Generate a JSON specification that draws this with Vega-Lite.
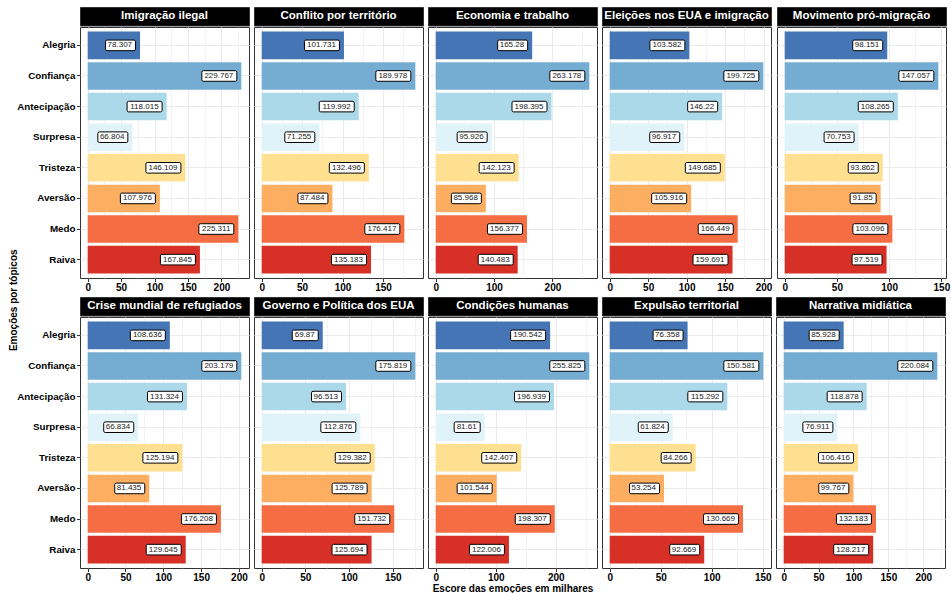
{
  "$schema": "https://vega.github.io/schema/vega-lite/v6.json",
  "padding": {"left": 8, "top": 6, "right": 0, "bottom": 0},
  "title": {"text": "Emoções por tópicos", "orient": "left", "anchor": "middle", "fontSize": 10, "fontWeight": "bold", "color": "black", "offset": -2.5},
  "data": {"values": [
    {"topic": "Imigração ilegal", "emo": "Alegria", "v": 78.307},
    {"topic": "Imigração ilegal", "emo": "Confiança", "v": 229.767},
    {"topic": "Imigração ilegal", "emo": "Antecipação", "v": 118.015},
    {"topic": "Imigração ilegal", "emo": "Surpresa", "v": 66.804},
    {"topic": "Imigração ilegal", "emo": "Tristeza", "v": 146.109},
    {"topic": "Imigração ilegal", "emo": "Aversão", "v": 107.976},
    {"topic": "Imigração ilegal", "emo": "Medo", "v": 225.311},
    {"topic": "Imigração ilegal", "emo": "Raiva", "v": 167.845},
    {"topic": "Conflito por território", "emo": "Alegria", "v": 101.731},
    {"topic": "Conflito por território", "emo": "Confiança", "v": 189.978},
    {"topic": "Conflito por território", "emo": "Antecipação", "v": 119.992},
    {"topic": "Conflito por território", "emo": "Surpresa", "v": 71.255},
    {"topic": "Conflito por território", "emo": "Tristeza", "v": 132.496},
    {"topic": "Conflito por território", "emo": "Aversão", "v": 87.484},
    {"topic": "Conflito por território", "emo": "Medo", "v": 176.417},
    {"topic": "Conflito por território", "emo": "Raiva", "v": 135.183},
    {"topic": "Economia e trabalho", "emo": "Alegria", "v": 165.28},
    {"topic": "Economia e trabalho", "emo": "Confiança", "v": 263.178},
    {"topic": "Economia e trabalho", "emo": "Antecipação", "v": 198.395},
    {"topic": "Economia e trabalho", "emo": "Surpresa", "v": 95.926},
    {"topic": "Economia e trabalho", "emo": "Tristeza", "v": 142.123},
    {"topic": "Economia e trabalho", "emo": "Aversão", "v": 85.968},
    {"topic": "Economia e trabalho", "emo": "Medo", "v": 156.377},
    {"topic": "Economia e trabalho", "emo": "Raiva", "v": 140.483},
    {"topic": "Eleições nos EUA e imigração", "emo": "Alegria", "v": 103.582},
    {"topic": "Eleições nos EUA e imigração", "emo": "Confiança", "v": 199.725},
    {"topic": "Eleições nos EUA e imigração", "emo": "Antecipação", "v": 146.22},
    {"topic": "Eleições nos EUA e imigração", "emo": "Surpresa", "v": 96.917},
    {"topic": "Eleições nos EUA e imigração", "emo": "Tristeza", "v": 149.685},
    {"topic": "Eleições nos EUA e imigração", "emo": "Aversão", "v": 105.916},
    {"topic": "Eleições nos EUA e imigração", "emo": "Medo", "v": 166.449},
    {"topic": "Eleições nos EUA e imigração", "emo": "Raiva", "v": 159.691},
    {"topic": "Movimento pró-migração", "emo": "Alegria", "v": 98.151},
    {"topic": "Movimento pró-migração", "emo": "Confiança", "v": 147.057},
    {"topic": "Movimento pró-migração", "emo": "Antecipação", "v": 108.265},
    {"topic": "Movimento pró-migração", "emo": "Surpresa", "v": 70.753},
    {"topic": "Movimento pró-migração", "emo": "Tristeza", "v": 93.862},
    {"topic": "Movimento pró-migração", "emo": "Aversão", "v": 91.85},
    {"topic": "Movimento pró-migração", "emo": "Medo", "v": 103.096},
    {"topic": "Movimento pró-migração", "emo": "Raiva", "v": 97.519},
    {"topic": "Crise mundial de refugiados", "emo": "Alegria", "v": 108.636},
    {"topic": "Crise mundial de refugiados", "emo": "Confiança", "v": 203.179},
    {"topic": "Crise mundial de refugiados", "emo": "Antecipação", "v": 131.324},
    {"topic": "Crise mundial de refugiados", "emo": "Surpresa", "v": 66.834},
    {"topic": "Crise mundial de refugiados", "emo": "Tristeza", "v": 125.194},
    {"topic": "Crise mundial de refugiados", "emo": "Aversão", "v": 81.435},
    {"topic": "Crise mundial de refugiados", "emo": "Medo", "v": 176.208},
    {"topic": "Crise mundial de refugiados", "emo": "Raiva", "v": 129.645},
    {"topic": "Governo e Política dos EUA", "emo": "Alegria", "v": 69.87},
    {"topic": "Governo e Política dos EUA", "emo": "Confiança", "v": 175.819},
    {"topic": "Governo e Política dos EUA", "emo": "Antecipação", "v": 96.513},
    {"topic": "Governo e Política dos EUA", "emo": "Surpresa", "v": 112.876},
    {"topic": "Governo e Política dos EUA", "emo": "Tristeza", "v": 129.382},
    {"topic": "Governo e Política dos EUA", "emo": "Aversão", "v": 125.789},
    {"topic": "Governo e Política dos EUA", "emo": "Medo", "v": 151.732},
    {"topic": "Governo e Política dos EUA", "emo": "Raiva", "v": 125.694},
    {"topic": "Condições humanas", "emo": "Alegria", "v": 190.542},
    {"topic": "Condições humanas", "emo": "Confiança", "v": 255.825},
    {"topic": "Condições humanas", "emo": "Antecipação", "v": 196.939},
    {"topic": "Condições humanas", "emo": "Surpresa", "v": 81.61},
    {"topic": "Condições humanas", "emo": "Tristeza", "v": 142.407},
    {"topic": "Condições humanas", "emo": "Aversão", "v": 101.544},
    {"topic": "Condições humanas", "emo": "Medo", "v": 198.307},
    {"topic": "Condições humanas", "emo": "Raiva", "v": 122.006},
    {"topic": "Expulsão territorial", "emo": "Alegria", "v": 76.358},
    {"topic": "Expulsão territorial", "emo": "Confiança", "v": 150.581},
    {"topic": "Expulsão territorial", "emo": "Antecipação", "v": 115.292},
    {"topic": "Expulsão territorial", "emo": "Surpresa", "v": 61.824},
    {"topic": "Expulsão territorial", "emo": "Tristeza", "v": 84.266},
    {"topic": "Expulsão territorial", "emo": "Aversão", "v": 53.254},
    {"topic": "Expulsão territorial", "emo": "Medo", "v": 130.669},
    {"topic": "Expulsão territorial", "emo": "Raiva", "v": 92.669},
    {"topic": "Narrativa midiática", "emo": "Alegria", "v": 85.928},
    {"topic": "Narrativa midiática", "emo": "Confiança", "v": 220.084},
    {"topic": "Narrativa midiática", "emo": "Antecipação", "v": 118.878},
    {"topic": "Narrativa midiática", "emo": "Surpresa", "v": 76.911},
    {"topic": "Narrativa midiática", "emo": "Tristeza", "v": 106.416},
    {"topic": "Narrativa midiática", "emo": "Aversão", "v": 99.767},
    {"topic": "Narrativa midiática", "emo": "Medo", "v": 132.183},
    {"topic": "Narrativa midiática", "emo": "Raiva", "v": 128.217}
  ]},
  "spacing": 3,
  "vconcat": [
    {"spacing": 3, "hconcat": [
      {"spacing": 0, "vconcat": [
        {"width": 169, "height": 18.5, "view": {"fill": "black", "stroke": "#333333"}, "data": {"values": [{}]},
         "mark": {"type": "text", "text": "Imigração ilegal", "color": "white", "fontWeight": "bold", "fontSize": 11.5}, "encoding": {}},
        {"width": 169, "height": 251,
         "transform": [{"filter": "datum.topic == 'Imigração ilegal'"}],
         "encoding": {
           "y": {"field": "emo", "type": "nominal", "title": null, "scale": {"domain": ["Alegria","Confiança","Antecipação","Surpresa","Tristeza","Aversão","Medo","Raiva"], "paddingInner": 0.1, "paddingOuter": 0.15}, "axis": {"labels": true, "ticks": true}},
           "x": {"field": "v", "type": "quantitative", "title": null, "scale": {"domain": [-11.488, 241.255], "nice": false, "zero": false},
                 "axis": {"values": [0,25,50,75,100,125,150,175,200,225], "format": "d", "labelExpr": "datum.value % 50 == 0 ? datum.label : ''",
                          "tickColor": {"condition": {"test": "datum.value % 50 != 0", "value": "transparent"}, "value": "#333333"},
                          "gridWidth": {"condition": {"test": "datum.value % 50 != 0", "value": 0.6}, "value": 1}}}
         },
         "layer": [
           {"mark": {"type": "bar"}, "encoding": {"color": {"field": "emo", "type": "nominal", "legend": null, "scale": {"domain": ["Alegria","Confiança","Antecipação","Surpresa","Tristeza","Aversão","Medo","Raiva"], "range": ["#4575b4","#74add1","#abd9e9","#e0f3f8","#fee090","#fdae61","#f46d43","#d73027"]}}}},
           {"mark": {"type": "point", "filled": true, "fill": "white", "stroke": "black", "strokeWidth": 1, "opacity": 1, "size": 400},
            "encoding": {"shape": {"condition": [
              {"test": "length(format(datum.v, '.3~f')) >= 7", "value": "M -3.8 -0.53 L -0.6 -0.53 Q -0.45 -0.53 -0.45 -0.38 L -0.45 0.38 Q -0.45 0.53 -0.6 0.53 L -3.8 0.53 Q -3.95 0.53 -3.95 0.38 L -3.95 -0.38 Q -3.95 -0.53 -3.8 -0.53 Z"},
              {"test": "length(format(datum.v, '.3~f')) == 6", "value": "M -3.3 -0.53 L -0.6 -0.53 Q -0.45 -0.53 -0.45 -0.38 L -0.45 0.38 Q -0.45 0.53 -0.6 0.53 L -3.3 0.53 Q -3.45 0.53 -3.45 0.38 L -3.45 -0.38 Q -3.45 -0.53 -3.3 -0.53 Z"}],
              "value": "M -2.9 -0.53 L -0.6 -0.53 Q -0.45 -0.53 -0.45 -0.38 L -0.45 0.38 Q -0.45 0.53 -0.6 0.53 L -2.9 0.53 Q -3.05 0.53 -3.05 0.38 L -3.05 -0.38 Q -3.05 -0.53 -2.9 -0.53 Z"}}},
           {"mark": {"type": "text", "align": "right", "baseline": "middle", "dx": -8, "fontSize": 8, "color": "#1a1a1a"},
            "encoding": {"text": {"field": "v", "type": "quantitative", "format": ".3~f"}}}
         ]}
      ]},
      {"spacing": 0, "vconcat": [
        {"width": 169, "height": 18.5, "view": {"fill": "black", "stroke": "#333333"}, "data": {"values": [{}]},
         "mark": {"type": "text", "text": "Conflito por território", "color": "white", "fontWeight": "bold", "fontSize": 11.5}, "encoding": {}},
        {"width": 169, "height": 251,
         "transform": [{"filter": "datum.topic == 'Conflito por território'"}],
         "encoding": {
           "y": {"field": "emo", "type": "nominal", "title": null, "scale": {"domain": ["Alegria","Confiança","Antecipação","Surpresa","Tristeza","Aversão","Medo","Raiva"], "paddingInner": 0.1, "paddingOuter": 0.15}, "axis": {"labels": false, "ticks": false}},
           "x": {"field": "v", "type": "quantitative", "title": null, "scale": {"domain": [-9.499, 199.477], "nice": false, "zero": false},
                 "axis": {"values": [0,25,50,75,100,125,150,175], "format": "d", "labelExpr": "datum.value % 50 == 0 ? datum.label : ''",
                          "tickColor": {"condition": {"test": "datum.value % 50 != 0", "value": "transparent"}, "value": "#333333"},
                          "gridWidth": {"condition": {"test": "datum.value % 50 != 0", "value": 0.6}, "value": 1}}}
         },
         "layer": [
           {"mark": {"type": "bar"}, "encoding": {"color": {"field": "emo", "type": "nominal", "legend": null, "scale": {"domain": ["Alegria","Confiança","Antecipação","Surpresa","Tristeza","Aversão","Medo","Raiva"], "range": ["#4575b4","#74add1","#abd9e9","#e0f3f8","#fee090","#fdae61","#f46d43","#d73027"]}}}},
           {"mark": {"type": "point", "filled": true, "fill": "white", "stroke": "black", "strokeWidth": 1, "opacity": 1, "size": 400},
            "encoding": {"shape": {"condition": [
              {"test": "length(format(datum.v, '.3~f')) >= 7", "value": "M -3.8 -0.53 L -0.6 -0.53 Q -0.45 -0.53 -0.45 -0.38 L -0.45 0.38 Q -0.45 0.53 -0.6 0.53 L -3.8 0.53 Q -3.95 0.53 -3.95 0.38 L -3.95 -0.38 Q -3.95 -0.53 -3.8 -0.53 Z"},
              {"test": "length(format(datum.v, '.3~f')) == 6", "value": "M -3.3 -0.53 L -0.6 -0.53 Q -0.45 -0.53 -0.45 -0.38 L -0.45 0.38 Q -0.45 0.53 -0.6 0.53 L -3.3 0.53 Q -3.45 0.53 -3.45 0.38 L -3.45 -0.38 Q -3.45 -0.53 -3.3 -0.53 Z"}],
              "value": "M -2.9 -0.53 L -0.6 -0.53 Q -0.45 -0.53 -0.45 -0.38 L -0.45 0.38 Q -0.45 0.53 -0.6 0.53 L -2.9 0.53 Q -3.05 0.53 -3.05 0.38 L -3.05 -0.38 Q -3.05 -0.53 -2.9 -0.53 Z"}}},
           {"mark": {"type": "text", "align": "right", "baseline": "middle", "dx": -8, "fontSize": 8, "color": "#1a1a1a"},
            "encoding": {"text": {"field": "v", "type": "quantitative", "format": ".3~f"}}}
         ]}
      ]},
      {"spacing": 0, "vconcat": [
        {"width": 169, "height": 18.5, "view": {"fill": "black", "stroke": "#333333"}, "data": {"values": [{}]},
         "mark": {"type": "text", "text": "Economia e trabalho", "color": "white", "fontWeight": "bold", "fontSize": 11.5}, "encoding": {}},
        {"width": 169, "height": 251,
         "transform": [{"filter": "datum.topic == 'Economia e trabalho'"}],
         "encoding": {
           "y": {"field": "emo", "type": "nominal", "title": null, "scale": {"domain": ["Alegria","Confiança","Antecipação","Surpresa","Tristeza","Aversão","Medo","Raiva"], "paddingInner": 0.1, "paddingOuter": 0.15}, "axis": {"labels": false, "ticks": false}},
           "x": {"field": "v", "type": "quantitative", "title": null, "scale": {"domain": [-13.159, 276.337], "nice": false, "zero": false},
                 "axis": {"values": [0,50,100,150,200,250], "format": "d", "labelExpr": "datum.value % 100 == 0 ? datum.label : ''",
                          "tickColor": {"condition": {"test": "datum.value % 100 != 0", "value": "transparent"}, "value": "#333333"},
                          "gridWidth": {"condition": {"test": "datum.value % 100 != 0", "value": 0.6}, "value": 1}}}
         },
         "layer": [
           {"mark": {"type": "bar"}, "encoding": {"color": {"field": "emo", "type": "nominal", "legend": null, "scale": {"domain": ["Alegria","Confiança","Antecipação","Surpresa","Tristeza","Aversão","Medo","Raiva"], "range": ["#4575b4","#74add1","#abd9e9","#e0f3f8","#fee090","#fdae61","#f46d43","#d73027"]}}}},
           {"mark": {"type": "point", "filled": true, "fill": "white", "stroke": "black", "strokeWidth": 1, "opacity": 1, "size": 400},
            "encoding": {"shape": {"condition": [
              {"test": "length(format(datum.v, '.3~f')) >= 7", "value": "M -3.8 -0.53 L -0.6 -0.53 Q -0.45 -0.53 -0.45 -0.38 L -0.45 0.38 Q -0.45 0.53 -0.6 0.53 L -3.8 0.53 Q -3.95 0.53 -3.95 0.38 L -3.95 -0.38 Q -3.95 -0.53 -3.8 -0.53 Z"},
              {"test": "length(format(datum.v, '.3~f')) == 6", "value": "M -3.3 -0.53 L -0.6 -0.53 Q -0.45 -0.53 -0.45 -0.38 L -0.45 0.38 Q -0.45 0.53 -0.6 0.53 L -3.3 0.53 Q -3.45 0.53 -3.45 0.38 L -3.45 -0.38 Q -3.45 -0.53 -3.3 -0.53 Z"}],
              "value": "M -2.9 -0.53 L -0.6 -0.53 Q -0.45 -0.53 -0.45 -0.38 L -0.45 0.38 Q -0.45 0.53 -0.6 0.53 L -2.9 0.53 Q -3.05 0.53 -3.05 0.38 L -3.05 -0.38 Q -3.05 -0.53 -2.9 -0.53 Z"}}},
           {"mark": {"type": "text", "align": "right", "baseline": "middle", "dx": -8, "fontSize": 8, "color": "#1a1a1a"},
            "encoding": {"text": {"field": "v", "type": "quantitative", "format": ".3~f"}}}
         ]}
      ]},
      {"spacing": 0, "vconcat": [
        {"width": 169, "height": 18.5, "view": {"fill": "black", "stroke": "#333333"}, "data": {"values": [{}]},
         "mark": {"type": "text", "text": "Eleições nos EUA e imigração", "color": "white", "fontWeight": "bold", "fontSize": 11.5}, "encoding": {}},
        {"width": 169, "height": 251,
         "transform": [{"filter": "datum.topic == 'Eleições nos EUA e imigração'"}],
         "encoding": {
           "y": {"field": "emo", "type": "nominal", "title": null, "scale": {"domain": ["Alegria","Confiança","Antecipação","Surpresa","Tristeza","Aversão","Medo","Raiva"], "paddingInner": 0.1, "paddingOuter": 0.15}, "axis": {"labels": false, "ticks": false}},
           "x": {"field": "v", "type": "quantitative", "title": null, "scale": {"domain": [-9.986, 209.711], "nice": false, "zero": false},
                 "axis": {"values": [0,25,50,75,100,125,150,175,200], "format": "d", "labelExpr": "datum.value % 50 == 0 ? datum.label : ''",
                          "tickColor": {"condition": {"test": "datum.value % 50 != 0", "value": "transparent"}, "value": "#333333"},
                          "gridWidth": {"condition": {"test": "datum.value % 50 != 0", "value": 0.6}, "value": 1}}}
         },
         "layer": [
           {"mark": {"type": "bar"}, "encoding": {"color": {"field": "emo", "type": "nominal", "legend": null, "scale": {"domain": ["Alegria","Confiança","Antecipação","Surpresa","Tristeza","Aversão","Medo","Raiva"], "range": ["#4575b4","#74add1","#abd9e9","#e0f3f8","#fee090","#fdae61","#f46d43","#d73027"]}}}},
           {"mark": {"type": "point", "filled": true, "fill": "white", "stroke": "black", "strokeWidth": 1, "opacity": 1, "size": 400},
            "encoding": {"shape": {"condition": [
              {"test": "length(format(datum.v, '.3~f')) >= 7", "value": "M -3.8 -0.53 L -0.6 -0.53 Q -0.45 -0.53 -0.45 -0.38 L -0.45 0.38 Q -0.45 0.53 -0.6 0.53 L -3.8 0.53 Q -3.95 0.53 -3.95 0.38 L -3.95 -0.38 Q -3.95 -0.53 -3.8 -0.53 Z"},
              {"test": "length(format(datum.v, '.3~f')) == 6", "value": "M -3.3 -0.53 L -0.6 -0.53 Q -0.45 -0.53 -0.45 -0.38 L -0.45 0.38 Q -0.45 0.53 -0.6 0.53 L -3.3 0.53 Q -3.45 0.53 -3.45 0.38 L -3.45 -0.38 Q -3.45 -0.53 -3.3 -0.53 Z"}],
              "value": "M -2.9 -0.53 L -0.6 -0.53 Q -0.45 -0.53 -0.45 -0.38 L -0.45 0.38 Q -0.45 0.53 -0.6 0.53 L -2.9 0.53 Q -3.05 0.53 -3.05 0.38 L -3.05 -0.38 Q -3.05 -0.53 -2.9 -0.53 Z"}}},
           {"mark": {"type": "text", "align": "right", "baseline": "middle", "dx": -8, "fontSize": 8, "color": "#1a1a1a"},
            "encoding": {"text": {"field": "v", "type": "quantitative", "format": ".3~f"}}}
         ]}
      ]},
      {"spacing": 0, "vconcat": [
        {"width": 169, "height": 18.5, "view": {"fill": "black", "stroke": "#333333"}, "data": {"values": [{}]},
         "mark": {"type": "text", "text": "Movimento pró-migração", "color": "white", "fontWeight": "bold", "fontSize": 11.5}, "encoding": {}},
        {"width": 169, "height": 251,
         "transform": [{"filter": "datum.topic == 'Movimento pró-migração'"}],
         "encoding": {
           "y": {"field": "emo", "type": "nominal", "title": null, "scale": {"domain": ["Alegria","Confiança","Antecipação","Surpresa","Tristeza","Aversão","Medo","Raiva"], "paddingInner": 0.1, "paddingOuter": 0.15}, "axis": {"labels": false, "ticks": false}},
           "x": {"field": "v", "type": "quantitative", "title": null, "scale": {"domain": [-7.353, 154.41], "nice": false, "zero": false},
                 "axis": {"values": [0,25,50,75,100,125,150], "format": "d", "labelExpr": "datum.value % 50 == 0 ? datum.label : ''",
                          "tickColor": {"condition": {"test": "datum.value % 50 != 0", "value": "transparent"}, "value": "#333333"},
                          "gridWidth": {"condition": {"test": "datum.value % 50 != 0", "value": 0.6}, "value": 1}}}
         },
         "layer": [
           {"mark": {"type": "bar"}, "encoding": {"color": {"field": "emo", "type": "nominal", "legend": null, "scale": {"domain": ["Alegria","Confiança","Antecipação","Surpresa","Tristeza","Aversão","Medo","Raiva"], "range": ["#4575b4","#74add1","#abd9e9","#e0f3f8","#fee090","#fdae61","#f46d43","#d73027"]}}}},
           {"mark": {"type": "point", "filled": true, "fill": "white", "stroke": "black", "strokeWidth": 1, "opacity": 1, "size": 400},
            "encoding": {"shape": {"condition": [
              {"test": "length(format(datum.v, '.3~f')) >= 7", "value": "M -3.8 -0.53 L -0.6 -0.53 Q -0.45 -0.53 -0.45 -0.38 L -0.45 0.38 Q -0.45 0.53 -0.6 0.53 L -3.8 0.53 Q -3.95 0.53 -3.95 0.38 L -3.95 -0.38 Q -3.95 -0.53 -3.8 -0.53 Z"},
              {"test": "length(format(datum.v, '.3~f')) == 6", "value": "M -3.3 -0.53 L -0.6 -0.53 Q -0.45 -0.53 -0.45 -0.38 L -0.45 0.38 Q -0.45 0.53 -0.6 0.53 L -3.3 0.53 Q -3.45 0.53 -3.45 0.38 L -3.45 -0.38 Q -3.45 -0.53 -3.3 -0.53 Z"}],
              "value": "M -2.9 -0.53 L -0.6 -0.53 Q -0.45 -0.53 -0.45 -0.38 L -0.45 0.38 Q -0.45 0.53 -0.6 0.53 L -2.9 0.53 Q -3.05 0.53 -3.05 0.38 L -3.05 -0.38 Q -3.05 -0.53 -2.9 -0.53 Z"}}},
           {"mark": {"type": "text", "align": "right", "baseline": "middle", "dx": -8, "fontSize": 8, "color": "#1a1a1a"},
            "encoding": {"text": {"field": "v", "type": "quantitative", "format": ".3~f"}}}
         ]}
      ]}
    ]},
    {"spacing": 3, "hconcat": [
      {"spacing": 0, "vconcat": [
        {"width": 169, "height": 18.5, "view": {"fill": "black", "stroke": "#333333"}, "data": {"values": [{}]},
         "mark": {"type": "text", "text": "Crise mundial de refugiados", "color": "white", "fontWeight": "bold", "fontSize": 11.5}, "encoding": {}},
        {"width": 169, "height": 251,
         "transform": [{"filter": "datum.topic == 'Crise mundial de refugiados'"}],
         "encoding": {
           "y": {"field": "emo", "type": "nominal", "title": null, "scale": {"domain": ["Alegria","Confiança","Antecipação","Surpresa","Tristeza","Aversão","Medo","Raiva"], "paddingInner": 0.1, "paddingOuter": 0.15}, "axis": {"labels": true, "ticks": true}},
           "x": {"field": "v", "type": "quantitative", "title": null, "scale": {"domain": [-10.159, 213.338], "nice": false, "zero": false},
                 "axis": {"values": [0,25,50,75,100,125,150,175,200], "format": "d", "labelExpr": "datum.value % 50 == 0 ? datum.label : ''",
                          "tickColor": {"condition": {"test": "datum.value % 50 != 0", "value": "transparent"}, "value": "#333333"},
                          "gridWidth": {"condition": {"test": "datum.value % 50 != 0", "value": 0.6}, "value": 1}}}
         },
         "layer": [
           {"mark": {"type": "bar"}, "encoding": {"color": {"field": "emo", "type": "nominal", "legend": null, "scale": {"domain": ["Alegria","Confiança","Antecipação","Surpresa","Tristeza","Aversão","Medo","Raiva"], "range": ["#4575b4","#74add1","#abd9e9","#e0f3f8","#fee090","#fdae61","#f46d43","#d73027"]}}}},
           {"mark": {"type": "point", "filled": true, "fill": "white", "stroke": "black", "strokeWidth": 1, "opacity": 1, "size": 400},
            "encoding": {"shape": {"condition": [
              {"test": "length(format(datum.v, '.3~f')) >= 7", "value": "M -3.8 -0.53 L -0.6 -0.53 Q -0.45 -0.53 -0.45 -0.38 L -0.45 0.38 Q -0.45 0.53 -0.6 0.53 L -3.8 0.53 Q -3.95 0.53 -3.95 0.38 L -3.95 -0.38 Q -3.95 -0.53 -3.8 -0.53 Z"},
              {"test": "length(format(datum.v, '.3~f')) == 6", "value": "M -3.3 -0.53 L -0.6 -0.53 Q -0.45 -0.53 -0.45 -0.38 L -0.45 0.38 Q -0.45 0.53 -0.6 0.53 L -3.3 0.53 Q -3.45 0.53 -3.45 0.38 L -3.45 -0.38 Q -3.45 -0.53 -3.3 -0.53 Z"}],
              "value": "M -2.9 -0.53 L -0.6 -0.53 Q -0.45 -0.53 -0.45 -0.38 L -0.45 0.38 Q -0.45 0.53 -0.6 0.53 L -2.9 0.53 Q -3.05 0.53 -3.05 0.38 L -3.05 -0.38 Q -3.05 -0.53 -2.9 -0.53 Z"}}},
           {"mark": {"type": "text", "align": "right", "baseline": "middle", "dx": -8, "fontSize": 8, "color": "#1a1a1a"},
            "encoding": {"text": {"field": "v", "type": "quantitative", "format": ".3~f"}}}
         ]}
      ]},
      {"spacing": 0, "vconcat": [
        {"width": 169, "height": 18.5, "view": {"fill": "black", "stroke": "#333333"}, "data": {"values": [{}]},
         "mark": {"type": "text", "text": "Governo e Política dos EUA", "color": "white", "fontWeight": "bold", "fontSize": 11.5}, "encoding": {}},
        {"width": 169, "height": 251,
         "transform": [{"filter": "datum.topic == 'Governo e Política dos EUA'"}],
         "encoding": {
           "y": {"field": "emo", "type": "nominal", "title": null, "scale": {"domain": ["Alegria","Confiança","Antecipação","Surpresa","Tristeza","Aversão","Medo","Raiva"], "paddingInner": 0.1, "paddingOuter": 0.15}, "axis": {"labels": false, "ticks": false}},
           "x": {"field": "v", "type": "quantitative", "title": null, "scale": {"domain": [-8.791, 184.61], "nice": false, "zero": false},
                 "axis": {"values": [0,25,50,75,100,125,150,175], "format": "d", "labelExpr": "datum.value % 50 == 0 ? datum.label : ''",
                          "tickColor": {"condition": {"test": "datum.value % 50 != 0", "value": "transparent"}, "value": "#333333"},
                          "gridWidth": {"condition": {"test": "datum.value % 50 != 0", "value": 0.6}, "value": 1}}}
         },
         "layer": [
           {"mark": {"type": "bar"}, "encoding": {"color": {"field": "emo", "type": "nominal", "legend": null, "scale": {"domain": ["Alegria","Confiança","Antecipação","Surpresa","Tristeza","Aversão","Medo","Raiva"], "range": ["#4575b4","#74add1","#abd9e9","#e0f3f8","#fee090","#fdae61","#f46d43","#d73027"]}}}},
           {"mark": {"type": "point", "filled": true, "fill": "white", "stroke": "black", "strokeWidth": 1, "opacity": 1, "size": 400},
            "encoding": {"shape": {"condition": [
              {"test": "length(format(datum.v, '.3~f')) >= 7", "value": "M -3.8 -0.53 L -0.6 -0.53 Q -0.45 -0.53 -0.45 -0.38 L -0.45 0.38 Q -0.45 0.53 -0.6 0.53 L -3.8 0.53 Q -3.95 0.53 -3.95 0.38 L -3.95 -0.38 Q -3.95 -0.53 -3.8 -0.53 Z"},
              {"test": "length(format(datum.v, '.3~f')) == 6", "value": "M -3.3 -0.53 L -0.6 -0.53 Q -0.45 -0.53 -0.45 -0.38 L -0.45 0.38 Q -0.45 0.53 -0.6 0.53 L -3.3 0.53 Q -3.45 0.53 -3.45 0.38 L -3.45 -0.38 Q -3.45 -0.53 -3.3 -0.53 Z"}],
              "value": "M -2.9 -0.53 L -0.6 -0.53 Q -0.45 -0.53 -0.45 -0.38 L -0.45 0.38 Q -0.45 0.53 -0.6 0.53 L -2.9 0.53 Q -3.05 0.53 -3.05 0.38 L -3.05 -0.38 Q -3.05 -0.53 -2.9 -0.53 Z"}}},
           {"mark": {"type": "text", "align": "right", "baseline": "middle", "dx": -8, "fontSize": 8, "color": "#1a1a1a"},
            "encoding": {"text": {"field": "v", "type": "quantitative", "format": ".3~f"}}}
         ]}
      ]},
      {"spacing": 0, "vconcat": [
        {"width": 169, "height": 18.5, "view": {"fill": "black", "stroke": "#333333"}, "data": {"values": [{}]},
         "mark": {"type": "text", "text": "Condições humanas", "color": "white", "fontWeight": "bold", "fontSize": 11.5}, "encoding": {}},
        {"width": 169, "height": 251,
         "transform": [{"filter": "datum.topic == 'Condições humanas'"}],
         "encoding": {
           "y": {"field": "emo", "type": "nominal", "title": null, "scale": {"domain": ["Alegria","Confiança","Antecipação","Surpresa","Tristeza","Aversão","Medo","Raiva"], "paddingInner": 0.1, "paddingOuter": 0.15}, "axis": {"labels": false, "ticks": false}},
           "x": {"field": "v", "type": "quantitative", "title": "Escore das emoções em milhares", "scale": {"domain": [-12.791, 268.616], "nice": false, "zero": false},
                 "axis": {"values": [0,50,100,150,200,250], "format": "d", "labelExpr": "datum.value % 100 == 0 ? datum.label : ''",
                          "tickColor": {"condition": {"test": "datum.value % 100 != 0", "value": "transparent"}, "value": "#333333"},
                          "gridWidth": {"condition": {"test": "datum.value % 100 != 0", "value": 0.6}, "value": 1}}}
         },
         "layer": [
           {"mark": {"type": "bar"}, "encoding": {"color": {"field": "emo", "type": "nominal", "legend": null, "scale": {"domain": ["Alegria","Confiança","Antecipação","Surpresa","Tristeza","Aversão","Medo","Raiva"], "range": ["#4575b4","#74add1","#abd9e9","#e0f3f8","#fee090","#fdae61","#f46d43","#d73027"]}}}},
           {"mark": {"type": "point", "filled": true, "fill": "white", "stroke": "black", "strokeWidth": 1, "opacity": 1, "size": 400},
            "encoding": {"shape": {"condition": [
              {"test": "length(format(datum.v, '.3~f')) >= 7", "value": "M -3.8 -0.53 L -0.6 -0.53 Q -0.45 -0.53 -0.45 -0.38 L -0.45 0.38 Q -0.45 0.53 -0.6 0.53 L -3.8 0.53 Q -3.95 0.53 -3.95 0.38 L -3.95 -0.38 Q -3.95 -0.53 -3.8 -0.53 Z"},
              {"test": "length(format(datum.v, '.3~f')) == 6", "value": "M -3.3 -0.53 L -0.6 -0.53 Q -0.45 -0.53 -0.45 -0.38 L -0.45 0.38 Q -0.45 0.53 -0.6 0.53 L -3.3 0.53 Q -3.45 0.53 -3.45 0.38 L -3.45 -0.38 Q -3.45 -0.53 -3.3 -0.53 Z"}],
              "value": "M -2.9 -0.53 L -0.6 -0.53 Q -0.45 -0.53 -0.45 -0.38 L -0.45 0.38 Q -0.45 0.53 -0.6 0.53 L -2.9 0.53 Q -3.05 0.53 -3.05 0.38 L -3.05 -0.38 Q -3.05 -0.53 -2.9 -0.53 Z"}}},
           {"mark": {"type": "text", "align": "right", "baseline": "middle", "dx": -8, "fontSize": 8, "color": "#1a1a1a"},
            "encoding": {"text": {"field": "v", "type": "quantitative", "format": ".3~f"}}}
         ]}
      ]},
      {"spacing": 0, "vconcat": [
        {"width": 169, "height": 18.5, "view": {"fill": "black", "stroke": "#333333"}, "data": {"values": [{}]},
         "mark": {"type": "text", "text": "Expulsão territorial", "color": "white", "fontWeight": "bold", "fontSize": 11.5}, "encoding": {}},
        {"width": 169, "height": 251,
         "transform": [{"filter": "datum.topic == 'Expulsão territorial'"}],
         "encoding": {
           "y": {"field": "emo", "type": "nominal", "title": null, "scale": {"domain": ["Alegria","Confiança","Antecipação","Surpresa","Tristeza","Aversão","Medo","Raiva"], "paddingInner": 0.1, "paddingOuter": 0.15}, "axis": {"labels": false, "ticks": false}},
           "x": {"field": "v", "type": "quantitative", "title": null, "scale": {"domain": [-7.529, 158.11], "nice": false, "zero": false},
                 "axis": {"values": [0,25,50,75,100,125,150], "format": "d", "labelExpr": "datum.value % 50 == 0 ? datum.label : ''",
                          "tickColor": {"condition": {"test": "datum.value % 50 != 0", "value": "transparent"}, "value": "#333333"},
                          "gridWidth": {"condition": {"test": "datum.value % 50 != 0", "value": 0.6}, "value": 1}}}
         },
         "layer": [
           {"mark": {"type": "bar"}, "encoding": {"color": {"field": "emo", "type": "nominal", "legend": null, "scale": {"domain": ["Alegria","Confiança","Antecipação","Surpresa","Tristeza","Aversão","Medo","Raiva"], "range": ["#4575b4","#74add1","#abd9e9","#e0f3f8","#fee090","#fdae61","#f46d43","#d73027"]}}}},
           {"mark": {"type": "point", "filled": true, "fill": "white", "stroke": "black", "strokeWidth": 1, "opacity": 1, "size": 400},
            "encoding": {"shape": {"condition": [
              {"test": "length(format(datum.v, '.3~f')) >= 7", "value": "M -3.8 -0.53 L -0.6 -0.53 Q -0.45 -0.53 -0.45 -0.38 L -0.45 0.38 Q -0.45 0.53 -0.6 0.53 L -3.8 0.53 Q -3.95 0.53 -3.95 0.38 L -3.95 -0.38 Q -3.95 -0.53 -3.8 -0.53 Z"},
              {"test": "length(format(datum.v, '.3~f')) == 6", "value": "M -3.3 -0.53 L -0.6 -0.53 Q -0.45 -0.53 -0.45 -0.38 L -0.45 0.38 Q -0.45 0.53 -0.6 0.53 L -3.3 0.53 Q -3.45 0.53 -3.45 0.38 L -3.45 -0.38 Q -3.45 -0.53 -3.3 -0.53 Z"}],
              "value": "M -2.9 -0.53 L -0.6 -0.53 Q -0.45 -0.53 -0.45 -0.38 L -0.45 0.38 Q -0.45 0.53 -0.6 0.53 L -2.9 0.53 Q -3.05 0.53 -3.05 0.38 L -3.05 -0.38 Q -3.05 -0.53 -2.9 -0.53 Z"}}},
           {"mark": {"type": "text", "align": "right", "baseline": "middle", "dx": -8, "fontSize": 8, "color": "#1a1a1a"},
            "encoding": {"text": {"field": "v", "type": "quantitative", "format": ".3~f"}}}
         ]}
      ]},
      {"spacing": 0, "vconcat": [
        {"width": 169, "height": 18.5, "view": {"fill": "black", "stroke": "#333333"}, "data": {"values": [{}]},
         "mark": {"type": "text", "text": "Narrativa midiática", "color": "white", "fontWeight": "bold", "fontSize": 11.5}, "encoding": {}},
        {"width": 169, "height": 251,
         "transform": [{"filter": "datum.topic == 'Narrativa midiática'"}],
         "encoding": {
           "y": {"field": "emo", "type": "nominal", "title": null, "scale": {"domain": ["Alegria","Confiança","Antecipação","Surpresa","Tristeza","Aversão","Medo","Raiva"], "paddingInner": 0.1, "paddingOuter": 0.15}, "axis": {"labels": false, "ticks": false}},
           "x": {"field": "v", "type": "quantitative", "title": null, "scale": {"domain": [-11.004, 231.088], "nice": false, "zero": false},
                 "axis": {"values": [0,25,50,75,100,125,150,175,200,225], "format": "d", "labelExpr": "datum.value % 50 == 0 ? datum.label : ''",
                          "tickColor": {"condition": {"test": "datum.value % 50 != 0", "value": "transparent"}, "value": "#333333"},
                          "gridWidth": {"condition": {"test": "datum.value % 50 != 0", "value": 0.6}, "value": 1}}}
         },
         "layer": [
           {"mark": {"type": "bar"}, "encoding": {"color": {"field": "emo", "type": "nominal", "legend": null, "scale": {"domain": ["Alegria","Confiança","Antecipação","Surpresa","Tristeza","Aversão","Medo","Raiva"], "range": ["#4575b4","#74add1","#abd9e9","#e0f3f8","#fee090","#fdae61","#f46d43","#d73027"]}}}},
           {"mark": {"type": "point", "filled": true, "fill": "white", "stroke": "black", "strokeWidth": 1, "opacity": 1, "size": 400},
            "encoding": {"shape": {"condition": [
              {"test": "length(format(datum.v, '.3~f')) >= 7", "value": "M -3.8 -0.53 L -0.6 -0.53 Q -0.45 -0.53 -0.45 -0.38 L -0.45 0.38 Q -0.45 0.53 -0.6 0.53 L -3.8 0.53 Q -3.95 0.53 -3.95 0.38 L -3.95 -0.38 Q -3.95 -0.53 -3.8 -0.53 Z"},
              {"test": "length(format(datum.v, '.3~f')) == 6", "value": "M -3.3 -0.53 L -0.6 -0.53 Q -0.45 -0.53 -0.45 -0.38 L -0.45 0.38 Q -0.45 0.53 -0.6 0.53 L -3.3 0.53 Q -3.45 0.53 -3.45 0.38 L -3.45 -0.38 Q -3.45 -0.53 -3.3 -0.53 Z"}],
              "value": "M -2.9 -0.53 L -0.6 -0.53 Q -0.45 -0.53 -0.45 -0.38 L -0.45 0.38 Q -0.45 0.53 -0.6 0.53 L -2.9 0.53 Q -3.05 0.53 -3.05 0.38 L -3.05 -0.38 Q -3.05 -0.53 -2.9 -0.53 Z"}}},
           {"mark": {"type": "text", "align": "right", "baseline": "middle", "dx": -8, "fontSize": 8, "color": "#1a1a1a"},
            "encoding": {"text": {"field": "v", "type": "quantitative", "format": ".3~f"}}}
         ]}
      ]}
    ]}
  ],
  "config": {
    "font": "Liberation Sans",
    "view": {"stroke": "#333333", "strokeWidth": 1},
    "axis": {"gridColor": "#ebebeb", "gridWidth": 1, "grid": true, "tickColor": "#333333", "tickSize": 3.5,
             "labelFontSize": 10, "labelFontWeight": "bold", "labelColor": "black", "labelPadding": 2, "domain": false,
             "titleFontSize": 10, "titleFontWeight": "bold", "titleColor": "black", "titlePadding": 1},
    "axisX": {"labelPadding": 1},
    "axisY": {"bandPosition": 0.5, "labelPadding": 1.5, "labelFontSize": 9.8}
  }
}
